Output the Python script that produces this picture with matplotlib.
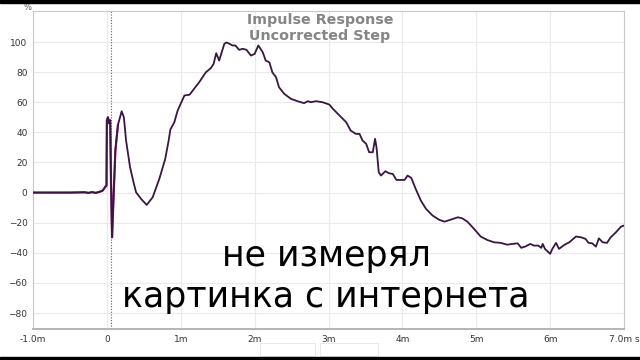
import matplotlib
matplotlib.use('Agg')
import matplotlib.pyplot as plt
from matplotlib.patches import Rectangle

# step response trace (time in ms, level in %)
t_ms = [-1.0, -0.5, -0.3, -0.25, -0.2, -0.15, -0.1, -0.06, -0.04, -0.02, -0.005,
        0.0, 0.015, 0.03, 0.045, 0.055, 0.07, 0.085, 0.115, 0.15, 0.2, 0.23, 0.26,
        0.314, 0.36, 0.395, 0.463, 0.539, 0.62, 0.71, 0.79, 0.836, 0.86, 0.913, 0.958,
        1.05, 1.12, 1.18, 1.25, 1.34, 1.41, 1.445, 1.48, 1.52, 1.59, 1.62, 1.66, 1.70,
        1.74, 1.79, 1.84, 1.89, 1.95, 2.0, 2.05, 2.11, 2.15, 2.2, 2.24, 2.29, 2.33,
        2.40, 2.49, 2.58, 2.67, 2.72, 2.76, 2.83, 2.92, 3.01, 3.06, 3.15, 3.24, 3.30,
        3.37, 3.42, 3.46, 3.51, 3.55, 3.60, 3.63, 3.65, 3.68, 3.71, 3.77, 3.82, 3.87,
        3.92, 3.98, 4.03, 4.07, 4.12, 4.18, 4.25, 4.32, 4.41, 4.50, 4.57, 4.66, 4.75,
        4.81, 4.88, 4.97, 5.06, 5.15, 5.24, 5.33, 5.42, 5.49, 5.56, 5.61, 5.67, 5.73,
        5.78, 5.84, 5.88, 5.90, 5.93, 6.0, 6.03, 6.08, 6.12, 6.19, 6.26, 6.35, 6.42,
        6.48, 6.52, 6.57, 6.62, 6.66, 6.71, 6.77, 6.82, 6.89, 6.96, 7.0]
level = [0, 0, 0.2, -0.2, 0.3, -0.2, 0.5, 1.2, 2.5, 4, 4.5,
         48, 50, 46, 48, 10, -29.7, -10, 28, 45, 54, 50, 34.5,
         16.8, 7, 0.2, -4.2, -8.2, -3.1, 9.1, 22.4, 34.5, 42, 46.7, 54.5,
         64.5, 65, 68.9, 73.3, 79.9, 82.8, 85.5, 92.6, 87.7, 98.8, 99.7, 98.8, 97.7,
         97.7, 94.8, 95.5, 94.8, 91, 92.1, 97.7, 93.2, 87.7, 86.5, 79.9, 76.6, 70,
         65.6, 62.3, 60.7, 59.4, 60.7, 60, 60.7, 60, 58.5, 55.6, 51.2, 46.7, 41.2,
         39, 39, 34.6, 32.4, 26.8, 26.8, 35.7, 30.1, 13.5, 11.3, 14.2, 12.8, 12.4,
         8.4, 8.4, 8.4, 11.3, 9.8, 2.5, -5.3, -10.8, -15.3, -18.1, -19.3, -17.9, -16.4,
         -17.1, -19.3, -24.1, -29.2, -31.5, -33, -33.4, -34.6, -34.1, -33.7, -36.7, -35.7, -34.1,
         -35.2, -35.2, -36.7, -34.1, -37.4, -40.7, -37.4, -33.4, -37.4, -34.8, -33, -29.2, -29.7,
         -30.8, -33.4, -33.7, -35.9, -30.4, -33, -33.4, -29.7, -26.4, -22.6, -21.9]

x_ticks = [-1, 0, 1, 2, 3, 4, 5, 6, 7]
x_labels = ['-1.0m', '0', '1m', '2m', '3m', '4m', '5m', '6m', '7.0m s']
y_ticks = [-80, -60, -40, -20, 0, 20, 40, 60, 80, 100]
marker_ms = 0.05

fig = plt.figure(figsize=(6.4, 3.6), dpi=100)
ax = fig.add_axes([33/640, 1 - 329/360, (624 - 33)/640, (329 - 11)/360])

ax.plot(t_ms[:20], level[:20], color='#a0307f', lw=1.6, zorder=3)
ax.plot(t_ms, level, color='#3a1642', lw=1.3, zorder=4)
ax.axvline(marker_ms, color='#c0392b', lw=0.8, ls=(0, (1, 1.5)), zorder=2)

ax.set_xlim(-1, 7)
ax.set_ylim(-90.6, 120.6)
ax.set_xticks(x_ticks)
ax.set_xticklabels(x_labels)
ax.set_yticks(y_ticks)
ax.grid(True, color='#ebe8ee', lw=0.8)
ax.tick_params(length=0, labelsize=6.5, colors='#333333', pad=4)
for s in ax.spines.values():
    s.set_color('#c8c8c8')
    s.set_linewidth(0.8)
ax.spines['bottom'].set_linewidth(1.4)
ax.spines['bottom'].set_color('#b4b4b4')

fig.text(27/640, 1 - 7/360, '%', fontsize=6, color='#555555', ha='center', va='center')

fig.text(320/640, 1 - 20/360, 'Impulse Response', fontsize=10.3, fontweight='bold',
         color='#858585', ha='center', va='center')
fig.text(320/640, 1 - 36/360, 'Uncorrected Step', fontsize=10.3, fontweight='bold',
         color='#858585', ha='center', va='center')

fig.text(326/640, 1 - 256/360, 'не измерял', fontsize=25, color='black',
         ha='center', va='center')
fig.text(326/640, 1 - 297/360, 'картинка с интернета', fontsize=25, color='black',
         ha='center', va='center')

# faint readout boxes under the axis
for x0, x1 in [(260, 315), (320, 378)]:
    fig.patches.append(Rectangle((x0/640, 1 - 356/360), (x1 - x0)/640, 13/360,
                                 transform=fig.transFigure, fill=False,
                                 edgecolor='#e4e4e4', lw=0.6))

# black letterbox bars
fig.patches.append(Rectangle((0, 1 - 3/360), 1, 3/360, transform=fig.transFigure,
                             color='black', zorder=10))
fig.patches.append(Rectangle((0, 0), 1, 3.5/360, transform=fig.transFigure,
                             color='black', zorder=10))

fig.savefig('out.png', dpi=100)
